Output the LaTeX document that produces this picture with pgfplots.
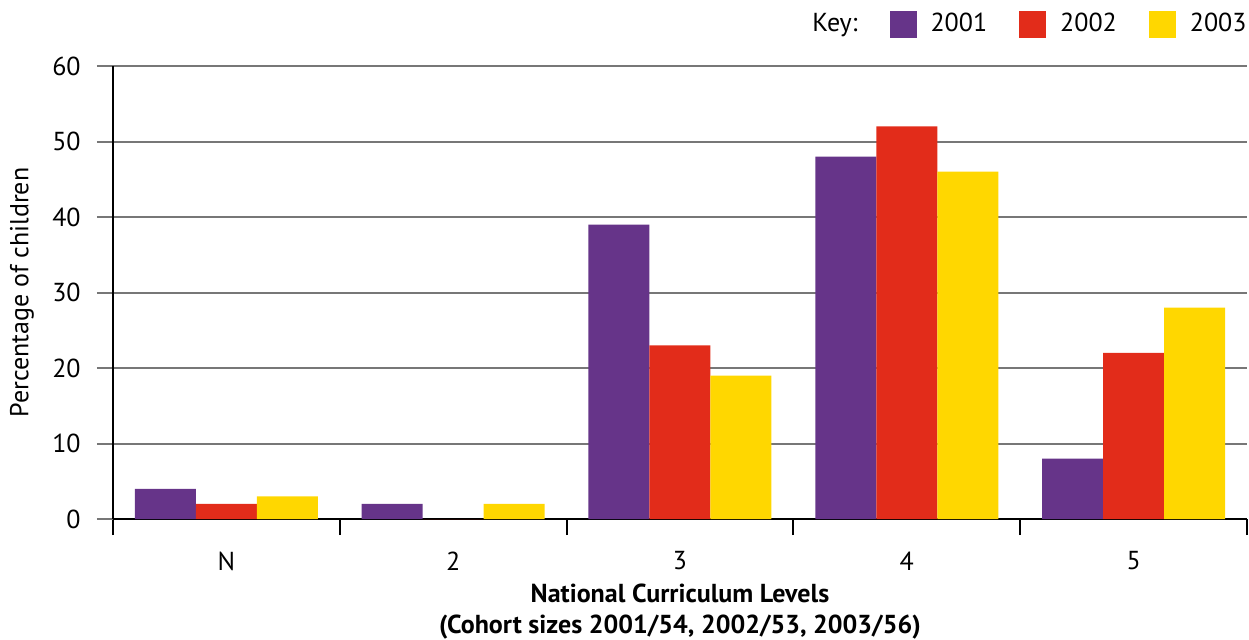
\documentclass[border=0pt]{standalone}
\usepackage{fontspec}
\setmainfont{PT Sans}
\usepackage{pgfplots}
\pgfplotsset{compat=1.18}

\definecolor{c2001}{HTML}{663489}
\definecolor{c2002}{HTML}{E22C1A}
\definecolor{c2003}{HTML}{FFD700}
\definecolor{gridgray}{HTML}{777777}

\pgfplotsset{
  sq/.style={legend image code/.code={\fill[##1] (0pt,-6.75pt) rectangle (13.5pt,6.75pt);}},
}

\begin{document}
\fontsize{13}{15.5}\selectfont
\begin{tikzpicture}
\path[use as bounding box] (-56.5pt,-60pt) rectangle (568pt,259.5pt);
\begin{axis}[
  at={(0pt,0pt)}, anchor=south west,
  scale only axis, width=567pt, height=226.5pt,
  font=\fontsize{13}{15.5}\selectfont,
  ymin=0, ymax=60, ytick={0,10,...,60},
  xmin=-0.5, xmax=4.5,
  xtick={0,...,4}, xticklabels={N,2,3,4,5},
  minor xtick={-0.5,0.5,...,4.5},
  ybar=0pt, bar width=30.5pt,
  axis x line*=bottom, axis y line*=left,
  axis line style={black, line width=1pt, -},
  ymajorgrids, grid style={gridgray, line width=1pt},
  tick align=outside,
  major tick length=8pt, minor tick length=8pt,
  major x tick style={draw=none},
  minor x tick style={black, line width=1pt},
  ytick style={gridgray, line width=1pt},
  /pgf/number format/assume math mode=true,
  yticklabel style={anchor=east, inner sep=0pt, xshift=-8pt},
  xticklabel style={anchor=center, inner sep=0pt, yshift=-13pt},
  ylabel={Percentage of children},
  ylabel style={at={(axis description cs:-0.08025,0.5)}, anchor=center, inner sep=0pt},
  xlabel={National Curriculum Levels\\(Cohort sizes 2001/54, 2002/53, 2003/56)},
  xlabel style={at={(axis description cs:0.5,-0.2042)}, anchor=center, align=center,
    font=\bfseries\fontsize{13}{15.5}\selectfont, inner sep=0pt},
  legend columns=-1,
  legend style={at={(axis description cs:1,1.0927)}, anchor=east, draw=none, fill=none,
    inner sep=0pt, nodes={inner sep=0pt},
    /tikz/every odd column/.append style={column sep=7pt},
    /tikz/every even column/.append style={column sep=16pt}},
]
\addlegendimage{empty legend}
\addlegendentry{Key:}
\addplot[fill=c2001, draw=none, sq] coordinates {(0,4) (1,2) (2,39) (3,48) (4,8)};
\addlegendentry{2001}
\addplot[fill=c2002, draw=none, sq] coordinates {(0,2) (1,0) (2,23) (3,52) (4,22)};
\addlegendentry{2002}
\addplot[fill=c2003, draw=none, sq] coordinates {(0,3) (1,2) (2,19) (3,46) (4,28)};
\addlegendentry{2003}
\end{axis}
\end{tikzpicture}
\end{document}
